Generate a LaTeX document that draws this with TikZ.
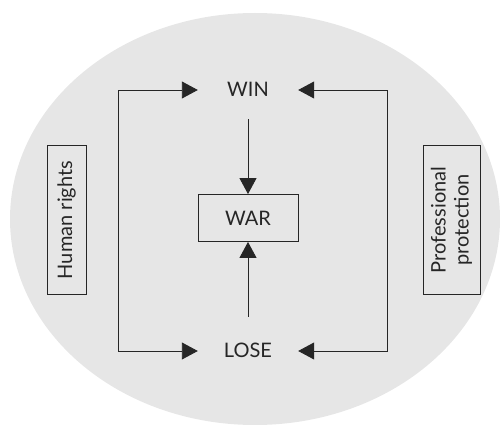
\documentclass[tikz,border=0pt]{standalone}
\usepackage{fontspec}
\setmainfont{Lato}
\usepackage{tikz}
\usetikzlibrary{arrows.meta,positioning}
\definecolor{ovalgray}{HTML}{E6E6E6}
\definecolor{inkgray}{HTML}{262626}

\begin{document}
\begin{tikzpicture}[x=1pt,y=-1pt,
  every node/.style={font=\fontsize{20}{23}\selectfont, text=inkgray},
  >={Triangle[length=16pt,width=17pt]},
  link/.style={draw=inkgray, line width=0.9pt},
  box/.style={draw=inkgray, line width=0.9pt, inner sep=0pt, align=center},
  outcome/.style={minimum width=100pt, inner xsep=0pt, text height=13pt, text depth=0pt}]
\useasboundingbox (0,0) rectangle (504,425);
\fill[ovalgray] (255,219) ellipse [x radius=245, y radius=206];
\node[outcome, inner ysep=22.5pt] (WIN) at (248,90) {WIN};
\node[box, minimum width=100pt, minimum height=47pt] (WAR) at (248,218) {WAR};
\node[outcome, inner ysep=27.5pt] (LOSE) at (248,351) {LOSE};
\node[box, rotate=90, minimum width=149pt, minimum height=39pt] (HR) at (66.5,220) {Human rights};
\node[box, rotate=90, minimum width=149pt, minimum height=57pt] (PP) at (451.5,220) {Professional\\protection};
\coordinate (tl) at (118,90);
\coordinate (bl) at (118,351);
\coordinate (tr) at (387,90);
\coordinate (br) at (387,351);
\draw[link,<->] (LOSE) -- (bl) -- (tl) -- (WIN);
\draw[link,<->] (LOSE) -- (br) -- (tr) -- (WIN);
\draw[link,->] (WIN) -- (WAR);
\draw[link,->] (LOSE) -- (WAR);
\end{tikzpicture}
\end{document}
